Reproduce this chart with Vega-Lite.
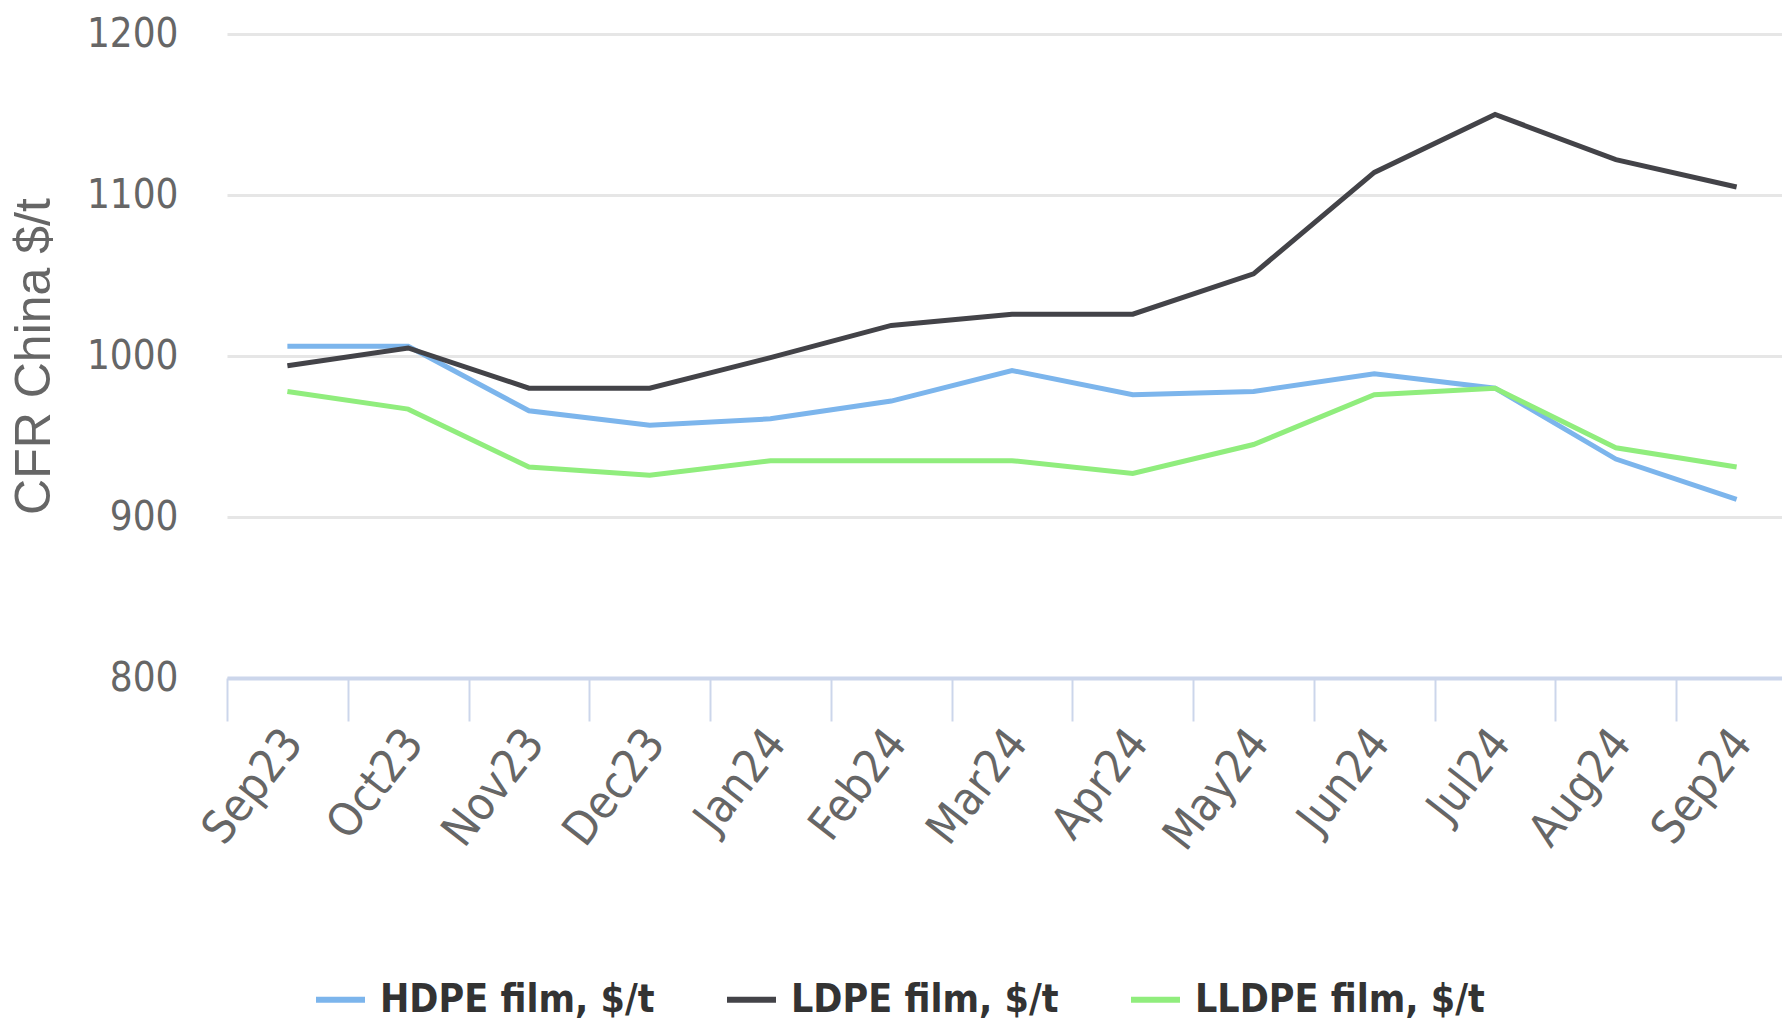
{
  "$schema": "https://vega.github.io/schema/vega-lite/v6.json",
  "width": 1555,
  "height": 644,
  "autosize": {"type": "none"},
  "padding": {"left": 227, "top": 34, "right": 0, "bottom": 345},
  "background": "white",
  "config": {"view": {"stroke": null}},
  "data": {
    "values": [
      {"month": "Sep23", "series": "HDPE film, $/t", "value": 1006},
      {"month": "Oct23", "series": "HDPE film, $/t", "value": 1006},
      {"month": "Nov23", "series": "HDPE film, $/t", "value": 966},
      {"month": "Dec23", "series": "HDPE film, $/t", "value": 957},
      {"month": "Jan24", "series": "HDPE film, $/t", "value": 961},
      {"month": "Feb24", "series": "HDPE film, $/t", "value": 972},
      {"month": "Mar24", "series": "HDPE film, $/t", "value": 991},
      {"month": "Apr24", "series": "HDPE film, $/t", "value": 976},
      {"month": "May24", "series": "HDPE film, $/t", "value": 978},
      {"month": "Jun24", "series": "HDPE film, $/t", "value": 989},
      {"month": "Jul24", "series": "HDPE film, $/t", "value": 980},
      {"month": "Aug24", "series": "HDPE film, $/t", "value": 936},
      {"month": "Sep24", "series": "HDPE film, $/t", "value": 911},
      {"month": "Sep23", "series": "LDPE film, $/t", "value": 994},
      {"month": "Oct23", "series": "LDPE film, $/t", "value": 1005},
      {"month": "Nov23", "series": "LDPE film, $/t", "value": 980},
      {"month": "Dec23", "series": "LDPE film, $/t", "value": 980},
      {"month": "Jan24", "series": "LDPE film, $/t", "value": 999},
      {"month": "Feb24", "series": "LDPE film, $/t", "value": 1019},
      {"month": "Mar24", "series": "LDPE film, $/t", "value": 1026},
      {"month": "Apr24", "series": "LDPE film, $/t", "value": 1026},
      {"month": "May24", "series": "LDPE film, $/t", "value": 1051},
      {"month": "Jun24", "series": "LDPE film, $/t", "value": 1114},
      {"month": "Jul24", "series": "LDPE film, $/t", "value": 1150},
      {"month": "Aug24", "series": "LDPE film, $/t", "value": 1122},
      {"month": "Sep24", "series": "LDPE film, $/t", "value": 1105},
      {"month": "Sep23", "series": "LLDPE film, $/t", "value": 978},
      {"month": "Oct23", "series": "LLDPE film, $/t", "value": 967},
      {"month": "Nov23", "series": "LLDPE film, $/t", "value": 931},
      {"month": "Dec23", "series": "LLDPE film, $/t", "value": 926},
      {"month": "Jan24", "series": "LLDPE film, $/t", "value": 935},
      {"month": "Feb24", "series": "LLDPE film, $/t", "value": 935},
      {"month": "Mar24", "series": "LLDPE film, $/t", "value": 935},
      {"month": "Apr24", "series": "LLDPE film, $/t", "value": 927},
      {"month": "May24", "series": "LLDPE film, $/t", "value": 945},
      {"month": "Jun24", "series": "LLDPE film, $/t", "value": 976},
      {"month": "Jul24", "series": "LLDPE film, $/t", "value": 980},
      {"month": "Aug24", "series": "LLDPE film, $/t", "value": 943},
      {"month": "Sep24", "series": "LLDPE film, $/t", "value": 931}
    ]
  },
  "mark": {"type": "line", "strokeWidth": 5},
  "encoding": {
    "x": {
      "field": "month",
      "type": "ordinal",
      "sort": null,
      "scale": {"type": "point", "padding": 0.5, "range": [0, 1570]},
      "axis": {
        "title": null,
        "grid": false,
        "domainColor": "#ccd6eb",
        "domainWidth": 4,
        "tickColor": "#ccd6eb",
        "tickWidth": 2,
        "tickSize": 43,
        "tickOffset": -60.4,
        "labelOffset": 66,
        "labelPadding": 14,
        "labelAngle": -52,
        "labelAlign": "right",
        "labelBaseline": "middle",
        "labelFont": "DejaVu Sans Condensed, Liberation Sans, sans-serif",
        "labelFontSize": 46,
        "labelColor": "#666666",
        "labelOverlap": false,
        "labelBound": false
      }
    },
    "y": {
      "field": "value",
      "type": "quantitative",
      "scale": {"domain": [800, 1200], "nice": false, "zero": false},
      "axis": {
        "title": "CFR China $/t",
        "values": [800, 900, 1000, 1100, 1200],
        "format": "d",
        "domain": false,
        "ticks": false,
        "tickSize": 0,
        "gridColor": "#e6e6e6",
        "gridWidth": 3,
        "labelPadding": 49,
        "labelFont": "DejaVu Sans Condensed, Liberation Sans, sans-serif",
        "labelFontSize": 40,
        "labelColor": "#666666",
        "titleFont": "Liberation Sans, sans-serif",
        "titleFontSize": 50,
        "titleFontWeight": "normal",
        "titleColor": "#666666",
        "titleX": -193,
        "titleY": 322,
        "titleAngle": -90,
        "titleAlign": "center",
        "titleBaseline": "middle"
      }
    },
    "color": {
      "field": "series",
      "type": "nominal",
      "scale": {
        "domain": ["HDPE film, $/t", "LDPE film, $/t", "LLDPE film, $/t"],
        "range": ["#7cb5ec", "#434348", "#90ed7d"]
      },
      "legend": {
        "title": null,
        "orient": "none",
        "legendX": 86,
        "legendY": 938,
        "direction": "horizontal",
        "symbolType": "stroke",
        "symbolSize": 2401,
        "symbolStrokeWidth": 6,
        "labelFont": "DejaVu Sans Condensed, Liberation Sans, sans-serif",
        "labelFontSize": 39,
        "labelFontWeight": "bold",
        "labelColor": "#333333",
        "labelOffset": 12,
        "labelLimit": 0,
        "columnPadding": 60
      }
    }
  }
}
